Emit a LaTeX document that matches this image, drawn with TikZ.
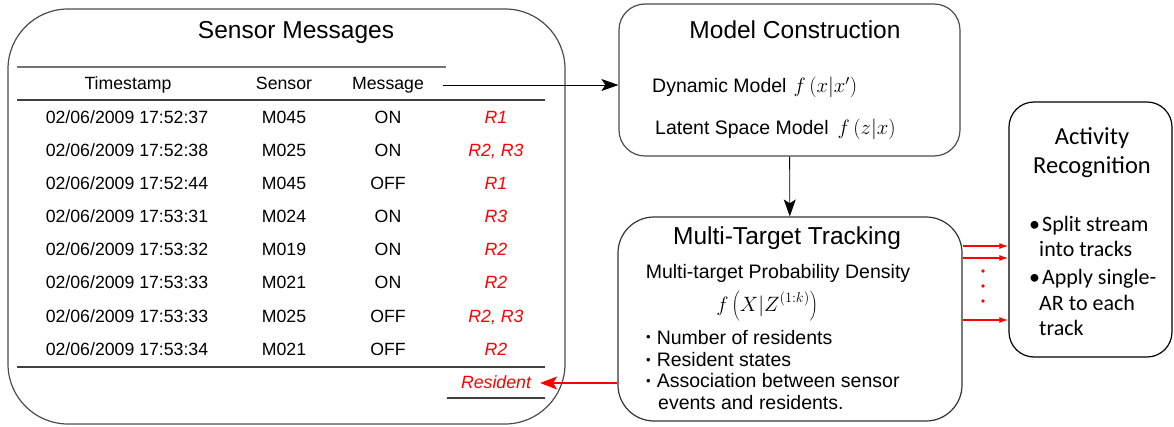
\documentclass[tikz,border=0pt]{standalone}
\usepackage{fontspec}
\setmainfont{Liberation Sans}
\newfontfamily\arfont{Carlito}
\usetikzlibrary{arrows.meta}
\newcommand\smallbul{{\fontsize{13}{15}\selectfont\raisebox{2pt}{•}}\hspace{6pt}}
\begin{document}
\begin{tikzpicture}[x=1pt,y=-1pt,
  panel/.style={draw=black!70, line width=1.2pt, inner sep=0pt, fill=white},
  rule/.style={draw=black!75, line width=1.6pt},
  cell/.style={anchor=base, inner sep=0pt, font=\fontsize{17.7}{21}\selectfont},
  rcell/.style={anchor=base, inner sep=0pt, text=red, font=\fontsize{17.7}{21}\selectfont\itshape},
  title/.style={anchor=base, inner sep=0pt, font=\fontsize{24.5}{28}\selectfont},
  body/.style={anchor=base west, inner sep=0pt, font=\fontsize{19.5}{23}\selectfont},
  artitle/.style={anchor=base, inner sep=0pt, font=\arfont\fontsize{24.5}{28}\selectfont},
  arbody/.style={anchor=base west, inner sep=0pt, font=\arfont\fontsize{22}{25}\selectfont},
  flow/.style={draw=black, line width=0.9pt, -{Stealth[length=17pt,width=12pt,inset=4pt]}},
  backflow/.style={draw=red, line width=1.1pt, -{Stealth[length=17pt,width=13pt,inset=4pt]}},
  redflow/.style={draw=red, line width=1.4pt, -{Latex[length=9pt,width=6pt]}},
]
\useasboundingbox (0,0) rectangle (1174,427);

% --- boxes
\node[panel, rounded corners=60pt, minimum width=557pt, minimum height=415pt] (sensor) at (286.5,216.5) {};
\node[panel, rounded corners=26pt, minimum width=341pt, minimum height=152pt] (model) at (789.5,80) {};
\node[panel, draw=black!80, rounded corners=36pt, minimum width=344pt, minimum height=204pt] (mtt) at (790,319) {};
\node[panel, draw=black, rounded corners=25pt, minimum width=163pt, minimum height=255pt] (ar) at (1090.5,229.5) {};

% --- sensor message table
\node[title] (stitle) at (296,39) {Sensor Messages};
\draw[rule, draw=black!55] (17,67) -- (446,67);
\draw[rule] (17,100) -- (545,100);
\draw[rule] (17,367) -- (545,367);
\draw[rule] (447,398) -- (545,398);

\node[cell] (hts) at (128,90) {Timestamp};
\node[cell] (hsn) at (284,90) {Sensor};
\node[cell] (hmsg) at (388,90) {Message};

\foreach \ts/\sn/\ms/\rr [count=\i from 0] in {
  17:52:37/M045/ON/R1,
  17:52:38/M025/ON/{R2, R3},
  17:52:44/M045/OFF/R1,
  17:53:31/M024/ON/R3,
  17:53:32/M019/ON/R2,
  17:53:33/M021/ON/R2,
  17:53:33/M025/OFF/{R2, R3},
  17:53:34/M021/OFF/R2} {
  \pgfmathsetmacro{\yy}{124+33.0*\i}
  \node[cell] (ts\i) at (127,\yy) {02/06/2009 \ts};
  \node[cell] (sn\i) at (284,\yy) {\sn};
  \node[cell] (ms\i) at (388,\yy) {\ms};
  \node[rcell] (rr\i) at (496,\yy) {\rr};
}
\node[rcell] (resident) at (496,388) {Resident};

% --- model construction
\node[title] (mtitle) at (795,39) {Model Construction};
\node[body] (dyn) at (652,93) {Dynamic Model\hspace{7pt}$f\left(x|x'\right)$};
\node[body] (lat) at (655,135) {Latent Space Model\hspace{9pt}$f\left(z|x\right)$};

% --- multi-target tracking
\node[title] (ttitle) at (787,245) {Multi-Target Tracking};
\node[anchor=base, inner sep=0pt, font=\fontsize{19.5}{23}\selectfont] (dens) at (778,279) {Multi-target Probability Density};
\node[inner sep=0pt, font=\fontsize{19.5}{23}\selectfont] (dform) at (767,306) {$\displaystyle f\left(X|Z^{(1:k)}\right)$};
\node[body] (b1) at (646,344) {\smallbul Number of residents};
\node[body] (b2) at (646,366) {\smallbul Resident states};
\node[body] (b3) at (646,387) {\smallbul Association between sensor};
\node[body] (b4) at (658,409) {events and residents.};

% --- activity recognition
\node[artitle] (atitle1) at (1092,145) {Activity};
\node[artitle] (atitle2) at (1092,174) {Recognition};
\node[arbody] (a1) at (1029,232) {•\hspace{2pt}Split stream};
\node[arbody] (a2) at (1039,257) {into tracks};
\node[arbody] (a3) at (1029,285) {•\hspace{2pt}Apply single-};
\node[arbody] (a4) at (1039,310) {AR to each};
\node[arbody] (a5) at (1039,335) {track};

% --- connectors
\coordinate (msgout) at (443,85);
\draw[flow] (msgout) -- (msgout -| model.west);
\draw[flow] (model) -- (mtt);
\coordinate (resin) at (0,383);
\draw[backflow] (mtt.west |- resin) -- ([xshift=9pt]resident.east |- resin);
\coordinate (tr1) at (0,246);
\coordinate (tr2) at (0,258);
\coordinate (tr3) at (0,320);
\foreach \t in {tr1,tr2,tr3}
  \draw[redflow] (mtt.east |- \t) -- (ar.west |- \t);
\foreach \yy in {271,286,301}
  \fill[red] (983,\yy) circle (1.9);
\end{tikzpicture}
\end{document}
